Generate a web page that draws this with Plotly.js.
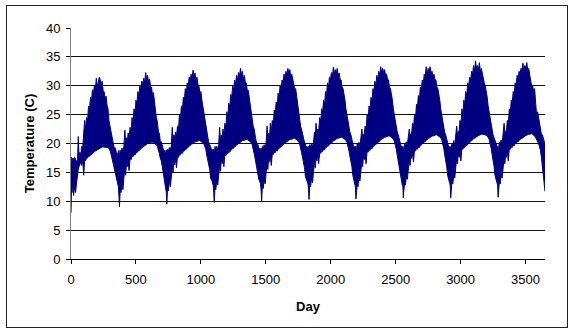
<!DOCTYPE html>
<html>
<head>
<meta charset="utf-8">
<script src="https://cdn.plot.ly/plotly-3.0.1.min.js"></script>
<style>
html,body{margin:0;padding:0;background:#fff;}
#wrap{position:relative;width:569px;height:329px;}
#chart{width:569px;height:329px;}
#frame{position:absolute;left:6px;top:5px;width:560px;height:321px;border:1px solid #222;pointer-events:none;}
</style>
</head>
<body>
<div id="wrap"><div id="chart"></div><div id="frame"></div></div>
<script>
const days = [
0,4,8,14,20,27,35,42,50,56,62,69,75,82,90,98,105,112,120,128,135,142,150,158,165,172,180,188,195,202,210,218,225,232,240,248,255,262,270,278,285,292,300,308,315,322,330,338,345,351,357,361,
365,369,373,379,385,392,400,407,415,421,427,434,440,447,455,463,470,477,485,493,500,507,515,523,530,537,545,553,560,567,575,583,590,597,605,613,620,627,635,643,650,657,665,673,680,687,695,703,710,716,722,726,
730,734,738,744,750,757,765,772,780,786,792,799,805,812,820,828,835,842,850,858,865,872,880,888,895,902,910,918,925,932,940,948,955,962,970,978,985,992,1000,1008,1015,1022,1030,1038,1045,1052,1060,1068,1075,1081,1087,1091,
1095,1099,1103,1109,1115,1122,1130,1137,1145,1151,1157,1164,1170,1177,1185,1193,1200,1207,1215,1223,1230,1237,1245,1253,1260,1267,1275,1283,1290,1297,1305,1313,1320,1327,1335,1343,1350,1357,1365,1373,1380,1387,1395,1403,1410,1417,1425,1433,1440,1446,1452,1456,
1460,1464,1468,1474,1480,1487,1495,1502,1510,1516,1522,1529,1535,1542,1550,1558,1565,1572,1580,1588,1595,1602,1610,1618,1625,1632,1640,1648,1655,1662,1670,1678,1685,1692,1700,1708,1715,1722,1730,1738,1745,1752,1760,1768,1775,1782,1790,1798,1805,1811,1817,1821,
1825,1829,1833,1839,1845,1852,1860,1867,1875,1881,1887,1894,1900,1907,1915,1923,1930,1937,1945,1953,1960,1967,1975,1983,1990,1997,2005,2013,2020,2027,2035,2043,2050,2057,2065,2073,2080,2087,2095,2103,2110,2117,2125,2133,2140,2147,2155,2163,2170,2176,2182,2186,
2190,2194,2198,2204,2210,2217,2225,2232,2240,2246,2252,2259,2265,2272,2280,2288,2295,2302,2310,2318,2325,2332,2340,2348,2355,2362,2370,2378,2385,2392,2400,2408,2415,2422,2430,2438,2445,2452,2460,2468,2475,2482,2490,2498,2505,2512,2520,2528,2535,2541,2547,2551,
2555,2559,2563,2569,2575,2582,2590,2597,2605,2611,2617,2624,2630,2637,2645,2653,2660,2667,2675,2683,2690,2697,2705,2713,2720,2727,2735,2743,2750,2757,2765,2773,2780,2787,2795,2803,2810,2817,2825,2833,2840,2847,2855,2863,2870,2877,2885,2893,2900,2906,2912,2916,
2920,2924,2928,2934,2940,2947,2955,2962,2970,2976,2982,2989,2995,3002,3010,3018,3025,3032,3040,3048,3055,3062,3070,3078,3085,3092,3100,3108,3115,3122,3130,3138,3145,3152,3160,3168,3175,3182,3190,3198,3205,3212,3220,3228,3235,3242,3250,3258,3265,3271,3277,3281,
3285,3289,3293,3299,3305,3312,3320,3327,3335,3341,3347,3354,3360,3367,3375,3383,3390,3397,3405,3413,3420,3427,3435,3443,3450,3457,3465,3473,3480,3487,3495,3503,3510,3517,3525,3533,3540,3547,3555,3563,3570,3577,3585,3593,3600,3607,3615,3623,3630,3636,3642,3646,3650
];
// Upper edge of the daily temperature trace (C)
const upper = [
17.5,17.6,16.5,17.5,17.0,17.6,17.3,16.8,17.2,21.2,17.8,18.5,17.8,19.5,19.2,21.5,24.0,22.5,24.5,24.0,26.5,25.8,28.0,27.3,29.3,28.6,30.0,29.5,31.3,30.0,30.5,31.5,31.0,30.0,30.8,29.0,29.0,27.8,28.2,26.5,26.0,24.0,23.0,21.8,21.5,20.2,19.5,19.3,18.9,18.2,18.4,18.0,
18.3,18.8,17.5,18.8,18.5,19.2,18.6,19.5,22.3,19.8,21.0,20.3,21.8,21.0,22.8,22.0,24.5,23.5,26.0,25.2,27.5,26.8,29.0,28.3,30.0,29.2,30.8,30.2,31.3,30.5,32.3,31.0,31.8,30.6,31.2,29.8,29.8,28.5,28.8,27.0,26.5,24.5,23.8,22.0,21.8,20.5,20.3,19.5,19.3,18.6,18.8,18.4,
18.5,18.9,18.0,19.0,18.6,19.3,18.8,19.6,22.8,20.0,21.5,20.6,22.0,21.2,23.0,22.5,25.0,24.0,26.5,25.7,28.0,27.2,29.5,28.7,30.5,29.8,31.5,30.8,32.0,31.2,32.7,31.5,32.2,31.0,31.5,30.2,30.0,28.8,29.0,27.5,26.5,25.0,24.0,22.5,22.0,20.8,20.2,19.8,19.5,18.9,19.0,18.6,
18.8,19.0,18.0,19.5,18.9,19.5,19.0,19.8,22.8,20.2,21.5,20.8,22.5,21.5,23.5,22.8,25.5,24.5,27.0,26.2,28.5,27.7,30.0,29.2,31.0,30.2,31.8,31.0,32.3,31.5,33.0,31.8,32.5,31.2,31.8,30.5,30.5,29.2,29.2,27.8,27.0,25.2,24.5,23.0,22.5,21.0,20.5,20.0,19.8,19.0,19.2,18.8,
19.0,19.2,18.5,19.5,19.0,19.8,19.2,20.0,23.0,20.5,21.8,21.0,23.5,22.0,24.0,23.2,25.8,25.0,27.2,26.5,28.7,28.0,30.0,29.3,31.0,30.4,32.0,31.2,32.5,31.8,33.0,32.0,32.8,31.5,32.0,30.8,30.5,29.5,29.5,28.0,27.0,25.5,24.5,23.0,22.5,21.5,21.0,20.2,20.0,19.3,19.5,19.0,
19.2,19.5,18.5,19.8,19.2,20.0,19.5,20.2,22.0,21.0,23.5,21.5,22.5,22.0,24.5,23.8,26.0,25.3,27.5,26.8,29.0,28.3,30.5,29.7,31.5,30.8,32.3,31.5,33.2,32.0,32.8,32.2,33.0,31.8,32.2,31.0,31.0,29.8,29.5,28.5,27.5,26.0,25.0,23.5,23.0,22.0,21.5,20.5,20.2,19.5,19.5,19.2,
19.5,18.5,19.0,20.0,19.5,20.2,19.5,20.5,22.5,21.0,21.5,21.8,23.0,22.2,25.0,24.0,26.5,25.8,28.0,27.2,29.5,28.8,30.8,30.0,31.8,31.0,32.5,31.8,33.3,32.2,33.0,32.3,32.8,31.8,32.0,31.0,31.0,29.8,29.5,28.5,27.5,26.0,25.0,23.5,23.0,22.0,21.5,20.6,20.2,19.6,19.5,19.3,
19.5,18.8,19.2,20.0,19.8,20.3,19.8,20.8,22.5,21.2,21.8,22.0,23.5,22.5,25.0,24.2,26.8,26.0,28.3,27.5,29.8,29.0,31.0,30.3,32.0,31.3,33.3,32.0,33.0,32.2,33.3,32.3,32.5,31.5,32.0,31.0,31.0,29.8,29.5,28.5,27.5,26.0,25.0,23.5,23.0,22.0,21.5,20.6,20.3,19.6,19.5,19.3,
19.5,19.0,19.3,20.0,19.8,20.5,19.8,21.0,23.0,21.5,22.0,22.3,24.0,23.0,26.0,25.0,27.5,26.8,29.0,28.3,30.5,29.8,31.5,31.0,32.5,32.0,33.5,32.5,34.3,33.0,33.5,32.8,34.0,32.5,33.0,32.0,31.5,30.5,30.0,29.0,28.0,26.5,25.5,24.0,23.5,22.5,21.5,21.0,20.5,19.8,19.8,19.5,
19.5,19.0,19.3,20.2,20.0,20.6,20.0,21.2,23.5,21.8,22.0,22.5,24.0,23.2,26.0,25.2,27.5,26.8,29.0,28.3,30.5,29.8,31.8,31.0,32.5,32.0,33.0,32.8,33.9,32.8,33.5,33.0,34.0,32.6,33.0,31.8,30.5,30.0,30.0,29.0,29.5,27.0,25.0,25.5,24.5,23.0,22.5,21.5,21.5,20.8,20.5,20.2,20.1
];
// Lower edge of the daily temperature trace (C)
const lower = [
8.0,12.5,11.5,13.5,11.0,12.5,11.5,13.0,15.0,15.5,16.0,16.5,16.8,16.2,17.0,14.5,17.2,17.0,17.5,17.5,17.8,17.8,18.0,18.1,18.3,18.4,18.6,18.7,18.8,18.9,19.0,19.1,19.2,19.3,19.4,19.4,19.4,19.4,19.3,19.3,19.3,19.1,18.8,18.2,17.5,16.8,16.0,15.2,14.2,13.5,13.0,12.5,
12.5,11.0,9.0,12.0,11.5,13.0,12.0,14.0,15.5,14.5,16.5,16.0,17.0,15.3,17.4,17.2,17.8,17.7,18.1,18.0,18.4,18.4,18.7,18.7,19.0,19.0,19.3,19.3,19.6,19.6,19.8,19.9,20.0,20.0,20.1,20.1,20.2,20.2,20.1,20.1,20.0,19.8,19.5,19.0,18.3,17.5,17.0,16.0,15.0,14.0,13.5,13.0,
12.5,11.5,9.5,12.5,11.8,13.5,12.5,14.2,16.0,15.0,17.0,16.3,17.5,15.8,17.8,17.6,18.1,18.0,18.4,18.3,18.7,18.7,19.0,19.0,19.3,19.3,19.6,19.6,19.9,19.9,20.1,20.2,20.3,20.3,20.4,20.4,20.5,20.5,20.4,20.3,20.2,20.0,19.5,19.0,18.0,17.3,16.5,15.5,14.0,13.8,13.5,13.0,
12.8,11.5,9.8,12.5,12.0,13.5,12.8,14.5,16.2,15.2,17.2,16.5,17.7,16.0,18.0,17.9,18.3,18.2,18.6,18.5,18.9,18.9,19.2,19.2,19.5,19.5,19.8,19.8,20.1,20.1,20.3,20.4,20.5,20.5,20.6,20.6,20.7,20.7,20.6,20.5,20.4,20.2,19.8,19.2,18.3,17.5,16.5,15.5,14.0,13.8,13.5,13.2,
13.0,11.8,10.0,12.8,12.2,13.8,13.0,14.8,16.5,15.5,17.5,16.8,17.9,16.2,18.2,18.1,18.5,18.4,18.8,18.7,19.1,19.1,19.4,19.4,19.7,19.7,20.0,20.0,20.3,20.3,20.5,20.6,20.7,20.7,20.8,20.8,20.9,20.9,20.8,20.7,20.6,20.4,20.0,19.4,18.5,17.7,16.8,15.8,14.3,13.8,13.5,13.2,
13.0,12.0,10.3,13.0,12.5,14.0,13.2,15.0,16.8,15.8,17.7,17.0,18.1,16.5,18.4,18.3,18.7,18.6,19.0,18.9,19.3,19.3,19.6,19.6,19.9,19.9,20.2,20.2,20.5,20.5,20.7,20.8,20.9,20.9,21.0,21.0,21.1,21.1,21.0,20.9,20.8,20.6,20.2,19.6,18.8,17.9,17.0,16.0,14.5,13.8,13.2,12.8,
12.5,10.4,11.5,13.0,12.5,14.0,13.5,15.0,17.0,16.0,17.8,17.2,18.3,16.5,18.6,18.5,18.9,18.8,19.2,19.1,19.5,19.5,19.8,19.8,20.1,20.1,20.4,20.4,20.7,20.7,20.9,21.0,21.1,21.1,21.2,21.2,21.3,21.3,21.2,21.1,21.0,20.8,20.4,19.8,19.0,18.0,17.0,16.0,14.5,13.8,13.2,12.8,
12.8,10.6,11.8,13.2,12.8,14.2,13.8,15.3,17.2,16.2,18.0,17.4,18.5,16.8,18.8,18.7,19.1,19.0,19.4,19.3,19.7,19.7,20.0,20.0,20.3,20.3,20.6,20.6,20.9,20.9,21.1,21.2,21.3,21.3,21.4,21.4,21.5,21.5,21.4,21.3,21.2,21.0,20.6,20.0,19.2,18.2,17.2,16.0,14.5,13.8,13.2,12.8,
12.8,10.6,12.0,13.5,13.0,14.5,14.0,15.5,17.5,16.5,18.3,17.6,18.8,17.0,19.1,19.0,19.4,19.3,19.7,19.6,20.0,20.0,20.3,20.3,20.6,20.6,20.9,20.9,21.1,21.1,21.3,21.4,21.5,21.5,21.6,21.6,21.6,21.6,21.5,21.4,21.3,21.1,20.7,20.1,19.2,18.2,17.2,16.0,14.5,13.8,13.2,12.8,
12.8,10.7,12.0,13.5,13.0,14.5,14.0,15.5,17.5,16.5,18.3,17.6,18.8,17.0,19.1,19.0,19.4,19.3,19.7,19.6,20.0,20.0,20.3,20.3,20.6,20.6,20.9,20.9,21.1,21.1,21.3,21.4,21.5,21.5,21.6,21.6,21.7,21.7,21.6,21.5,21.3,21.1,20.8,20.5,20.0,19.5,18.8,17.5,16.0,15.0,14.0,12.5,11.7
];
const xTicks = [0,500,1000,1500,2000,2500,3000,3500];
const yTicks = [0,5,10,15,20,25,30,35,40];

const navy = '#000080';
const traces = [
  {x: days, y: lower, type: 'scatter', mode: 'lines', line: {color: navy, width: 1}, hoverinfo: 'skip', showlegend: false},
  {x: days, y: upper, type: 'scatter', mode: 'lines', fill: 'tonexty', fillcolor: navy, line: {color: navy, width: 1}, hoverinfo: 'skip', showlegend: false}
];
const font = {family: 'Liberation Sans, Arial, sans-serif', size: 13, color: '#000'};
const layout = {
  width: 569, height: 329,
  margin: {l: 71, r: 24, t: 28, b: 70},
  paper_bgcolor: '#fff', plot_bgcolor: '#fff',
  font: font,
  showlegend: false,
  xaxis: {
    range: [0, 3650], tickvals: xTicks, ticktext: xTicks.map(String),
    showgrid: false, zeroline: false,
    showline: true, linecolor: '#000', linewidth: 1,
    ticks: 'outside', ticklen: 4, tickcolor: '#000',
    ticklabelstandoff: 4,
    tickfont: font,
    title: {text: '<b>Day</b>', font: font, standoff: 16}
  },
  yaxis: {
    range: [0, 40], tickvals: yTicks, ticktext: yTicks.map(String),
    showgrid: true, gridcolor: '#111', gridwidth: 1,
    zeroline: false,
    showline: true, linecolor: '#808080', linewidth: 1,
    ticks: 'outside', ticklen: 4, tickcolor: '#000',
    ticklabelstandoff: 3,
    tickfont: font,
    title: {text: '<b>Temperature (C)</b>', font: font, standoff: 8}
  }
};
Plotly.newPlot('chart', traces, layout, {staticPlot: true, displayModeBar: false});
</script>
</body>
</html>
